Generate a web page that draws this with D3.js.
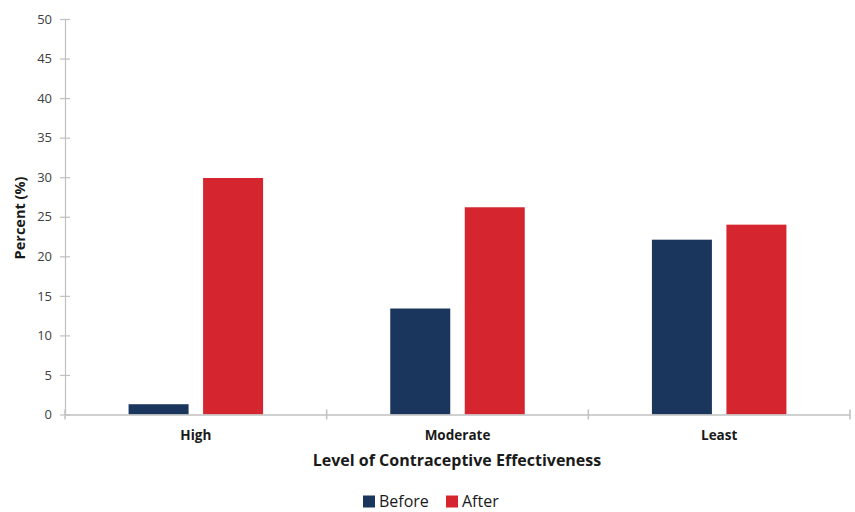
<!DOCTYPE html>
<html>
<head>
<meta charset="utf-8">
<script src="https://cdn.jsdelivr.net/npm/d3@7"></script>
<style>
  body { margin: 0; background: #fff; }
  svg text { font-family: "Open Sans", sans-serif; }
</style>
</head>
<body>
<svg id="chart" width="855" height="512"></svg>
<script>
// Contraceptive use by effectiveness level, before and after
const categories = ["High", "Moderate", "Least"];
const seriesNames = ["Before", "After"];
const beforeValues = [1.3, 13.4, 22.1];
const afterValues = [29.9, 26.2, 24.0];
const yTicks = [0, 5, 10, 15, 20, 25, 30, 35, 40, 45, 50];
const colors = ["#1b365d", "#d52630"];

const svg = d3.select("#chart");
const margin = { left: 65, right: 5, top: 19, bottom: 97.5 };
const width = 855 - margin.left - margin.right;
const height = 512 - margin.top - margin.bottom;

const g = svg.append("g").attr("transform", `translate(${margin.left},${margin.top})`);

const x = d3.scaleBand().domain(categories).range([0, width]).paddingInner(0).paddingOuter(0);
// Pair of 60px bars separated by a 14.5px gap, centred in each band
const barW = 60, gap = 14.5, pairW = 2 * barW + gap;
const xSub = d3.scaleBand().domain(seriesNames)
  .range([(x.bandwidth() - pairW) / 2, (x.bandwidth() + pairW) / 2])
  .paddingInner(gap / (barW + gap));
const y = d3.scaleLinear().domain([0, 50]).range([height, 0]);

const axisColor = "#c0c0c0";
const textColor = "#404040";

// Y axis
const yAxis = g.append("g").call(d3.axisLeft(y).tickValues(yTicks).tickSize(0).tickPadding(13));
yAxis.select(".domain").attr("stroke", axisColor).attr("stroke-width", 1.2);
yAxis.selectAll(".tick text").attr("fill", textColor).attr("font-size", 13);
yAxis.selectAll(".tick").append("line")
  .attr("x1", -5).attr("x2", 5).attr("stroke", axisColor).attr("stroke-width", 1.2);

// Bars
const data = categories.map((c, i) => ({ cat: c, values: [beforeValues[i], afterValues[i]] }));
const groups = g.selectAll(".grp").data(data).join("g")
  .attr("class", "grp")
  .attr("transform", d => `translate(${x(d.cat)},0)`);
groups.selectAll("rect").data(d => d.values.map((v, k) => ({ name: seriesNames[k], v, k })))
  .join("rect")
  .attr("x", d => xSub(d.name))
  .attr("width", xSub.bandwidth())
  .attr("y", d => y(d.v))
  .attr("height", d => y(0) - y(d.v))
  .attr("fill", d => colors[d.k]);

// X axis
const xAxis = g.append("g").attr("transform", `translate(0,${height})`)
  .call(d3.axisBottom(x).tickSize(0).tickPadding(16));
xAxis.select(".domain").attr("stroke", axisColor).attr("stroke-width", 1.5);
xAxis.selectAll(".tick text").attr("fill", "#1a1a1a").attr("font-size", 13.5).attr("font-weight", "bold");
const bounds = categories.map(c => x(c)).concat([width]);
xAxis.selectAll(".sep").data(bounds).join("line")
  .attr("class", "sep")
  .attr("x1", d => d).attr("x2", d => d)
  .attr("y1", -5).attr("y2", 5)
  .attr("stroke", axisColor).attr("stroke-width", 1.5);

// Axis titles
svg.append("text")
  .attr("transform", `translate(25,218) rotate(-90)`)
  .attr("text-anchor", "middle")
  .attr("font-size", 14.5).attr("font-weight", "bold").attr("fill", "#1a1a1a")
  .text("Percent (%)");
svg.append("text")
  .attr("x", 457).attr("y", 466)
  .attr("text-anchor", "middle")
  .attr("font-size", 16).attr("font-weight", "bold").attr("fill", "#1a1a1a")
  .text("Level of Contraceptive Effectiveness");

// Legend
const legendItems = [{ name: "Before", x: 363 }, { name: "After", x: 446 }];
const legend = svg.append("g");
legendItems.forEach((d, i) => {
  legend.append("rect").attr("x", d.x).attr("y", 495.5).attr("width", 12).attr("height", 12).attr("fill", colors[i]);
  legend.append("text").attr("x", d.x + 16).attr("y", 507)
    .attr("font-size", 16).attr("fill", "#1a1a1a").text(d.name);
});
</script>
</body>
</html>
